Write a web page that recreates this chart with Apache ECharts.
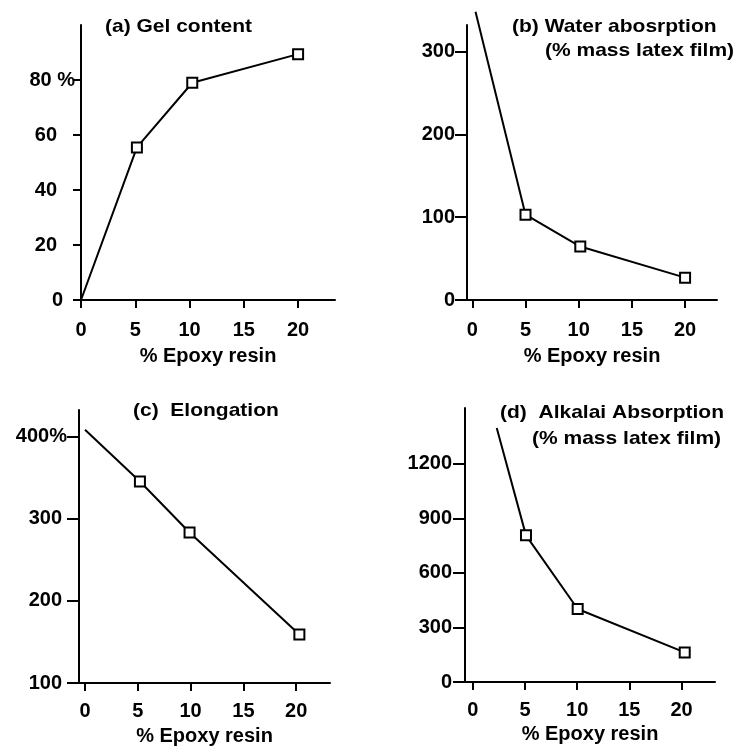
<!DOCTYPE html>
<html>
<head>
<meta charset="utf-8">
<script src="https://cdn.jsdelivr.net/npm/echarts@6/dist/echarts.min.js"></script>
<style>
html,body{margin:0;padding:0;background:#fff;}
#c{width:735px;height:748px;}
</style>
</head>
<body>
<div id="c"></div>
<script>
// ---- data ----
var xTicks = [0, 5, 10, 15, 20];

var gelX = [0, 5.15, 10.25, 20];
var gelY = [0, 55.5, 79, 89.4];
var gelTicks = [0, 20, 40, 60, 80];

var waterX = [0.3, 5, 10.15, 20];
var waterY = [348, 103, 64.5, 27];
var waterTicks = [0, 100, 200, 300];

var elongX = [0, 5.2, 9.9, 20.3];
var elongY = [408, 345, 283, 159];
var elongTicks = [100, 200, 300, 400];

var alkX = [2.3, 5.1, 10.05, 20.3];
var alkY = [1398, 807, 402, 163];
var alkTicks = [0, 300, 600, 900, 1200];

var xName = '% Epoxy resin';
var titles = [
  '(a) Gel content',
  '(b) Water abosrption',
  '(% mass latex film)',
  '(c)  Elongation',
  '(d)  Alkalai Absorption',
  '(% mass latex film)'
];

// ---- chart ----
var FONT = "'Liberation Sans', Arial, Helvetica, sans-serif";
var FS = 20;
var TFS = 21;
var FW = 'bold';
var chart = echarts.init(document.getElementById('c'));

function pairs(xs, ys) {
  return xs.map(function (x, i) {
    var d = { value: [x, ys[i]] };
    if (i === 0) d.symbol = 'none';
    return d;
  });
}

var grids = [
  { left: 81, top: 25, width: 254, height: 275 },
  { left: 467, top: 25, width: 250, height: 275 },
  { left: 79, top: 410, width: 251, height: 273 },
  { left: 465, top: 408, width: 250, height: 274 }
].map(function (g) { g.outerBoundsMode = 'none'; g.containLabel = false; return g; });

var xRanges = [[0, 23.4], [-0.5, 23], [-0.57, 23.2], [-0.74, 23.2]];
var yRanges = [[0, 100], [0, 332], [100, 432], [0, 1508]];
var yTickSets = [gelTicks, waterTicks, elongTicks, alkTicks];
var xLabelMargin = [20, 20, 18, 18];
var xNameGap = [46, 46, 43, 42];

var lineAxis = { show: true, onZero: false, lineStyle: { color: '#000', width: 2 } };

var xAxes = xRanges.map(function (r, i) {
  return {
    type: 'value', gridIndex: i, min: r[0], max: r[1],
    axisLine: lineAxis,
    splitLine: { show: false },
    axisTick: { show: true, length: 8, customValues: xTicks, lineStyle: { color: '#000', width: 2 } },
    axisLabel: { customValues: xTicks, margin: xLabelMargin[i], color: '#000', fontSize: FS, fontWeight: FW, fontFamily: FONT },
    name: xName, nameLocation: 'middle', nameGap: xNameGap[i],
    nameTextStyle: { color: '#000', fontSize: FS, fontWeight: FW, fontFamily: FONT }
  };
});

var yLabelCfg = [
  { margin: 6, tick: 8, fmt: function (v) { return v === 80 ? '80 %' : (v === 0 ? '{z|0}' : '{n|' + v + '}'); },
    rich: { n: { padding: [0, 18, 0, 0] }, z: { padding: [0, 12, 0, 0] } } },
  { margin: 12, tick: 12, fmt: function (v) { return String(v); }, rich: {} },
  { margin: 12, tick: 12, fmt: function (v) { return v === 400 ? '400%' : '{n|' + v + '}'; },
    rich: { n: { padding: [0, 5, 0, 0] } } },
  { margin: 13, tick: 12, fmt: function (v) { return String(v); }, rich: {} }
];

var yAxes = yRanges.map(function (r, i) {
  var c = yLabelCfg[i];
  var rich = {};
  Object.keys(c.rich).forEach(function (k) {
    rich[k] = Object.assign({ color: '#000', fontSize: FS, fontWeight: FW, fontFamily: FONT }, c.rich[k]);
  });
  return {
    type: 'value', gridIndex: i, min: r[0], max: r[1],
    axisLine: lineAxis,
    splitLine: { show: false },
    axisTick: { show: true, length: c.tick, customValues: yTickSets[i], lineStyle: { color: '#000', width: 2 } },
    axisLabel: { customValues: yTickSets[i], margin: c.margin, color: '#000', fontSize: FS, fontWeight: FW, fontFamily: FONT,
      formatter: c.fmt, rich: rich }
  };
});

var seriesData = [pairs(gelX, gelY), pairs(waterX, waterY), pairs(elongX, elongY), pairs(alkX, alkY)];
var series = seriesData.map(function (d, i) {
  return {
    type: 'line', xAxisIndex: i, yAxisIndex: i, data: d, clip: false,
    symbol: 'rect', symbolSize: 10, showAllSymbol: true,
    lineStyle: { color: '#000', width: 2 },
    itemStyle: { color: '#fff', borderColor: '#000', borderWidth: 2 },
    emphasis: { disabled: true }, silent: true
  };
});

var titlePos = [[105, 27], [512, 27], [545, 51], [133, 411], [500, 413], [532, 439]];
var graphic = titles.map(function (t, i) {
  return {
    type: 'text', x: titlePos[i][0], y: titlePos[i][1], scaleY: 0.88, silent: true,
    style: { text: t, fill: '#000', font: FW + ' ' + TFS + 'px ' + FONT, textAlign: 'left', textVerticalAlign: 'middle' }
  };
});

chart.setOption({
  animation: false,
  backgroundColor: '#fff',
  grid: grids,
  xAxis: xAxes,
  yAxis: yAxes,
  series: series,
  graphic: graphic
});
</script>
</body>
</html>
